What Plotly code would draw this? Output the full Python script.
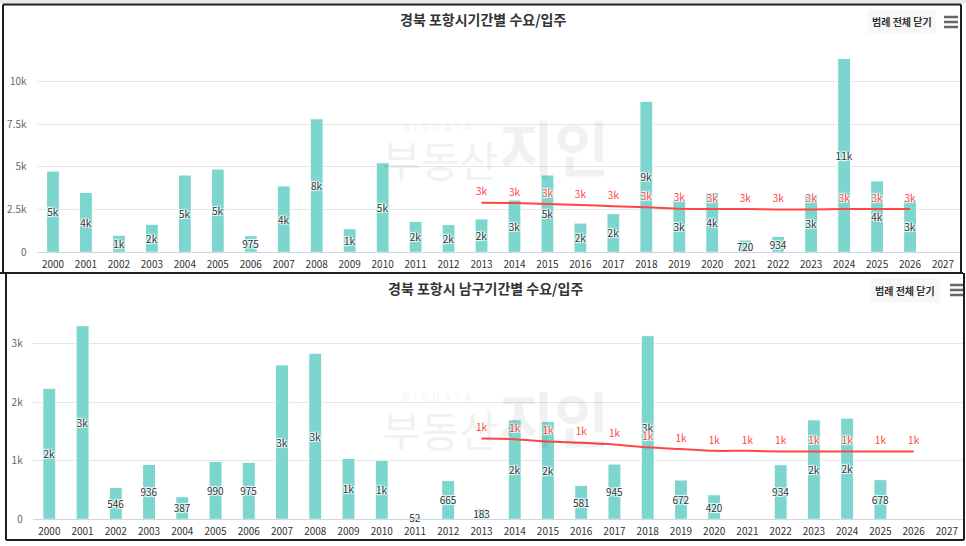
import plotly.graph_objects as go

years = ["2000", "2001", "2002", "2003", "2004", "2005", "2006", "2007", "2008", "2009",
         "2010", "2011", "2012", "2013", "2014", "2015", "2016", "2017", "2018", "2019",
         "2020", "2021", "2022", "2023", "2024", "2025", "2026", "2027"]

# 경북 포항시 (top)
top_supply = [4750, 3500, 1000, 1640, 4520, 4870, 975, 3880, 7810, 1380,
              5240, 1810, 1620, 1950, 3060, 4520, 1710, 2260, 8830, 3050,
              3500, 720, 934, 3390, 11340, 4170, 3060, None]
top_demand = [None, None, None, None, None, None, None, None, None, None,
              None, None, None, 2900, 2880, 2820, 2770, 2700, 2630, 2550,
              2530, 2530, 2510, 2510, 2530, 2530, 2530, None]
top_yticks = [0, 2500, 5000, 7500, 10000]
top_yticklabels = ["0", "2.5k", "5k", "7.5k", "10k"]

# 경북 포항시 남구 (bottom)
bot_supply = [2240, 3310, 546, 936, 387, 990, 975, 2640, 2840, 1040,
              1010, 52, 665, 183, 1700, 1670, 581, 945, 3140, 672,
              420, None, 934, 1700, 1730, 678, None, None]
bot_demand = [None, None, None, None, None, None, None, None, None, None,
              None, None, None, 1380, 1370, 1330, 1310, 1280, 1230, 1200,
              1170, 1170, 1160, 1160, 1160, 1160, 1160, None]
bot_yticks = [0, 1000, 2000, 3000]
bot_yticklabels = ["0", "1k", "2k", "3k"]

top_title = "경북 포항시기간별 수요/입주"
bot_title = "경북 포항시 남구기간별 수요/입주"
legend_btn = "범례 전체 닫기"

W, H = 966, 546
FIG_H = 553
BAR = "#7dd6ce"
RED = "#ff4545"
FONT = "Noto Sans CJK KR, Noto Sans, sans-serif"
HALO = "1px 1px 1px #fff, -1px -1px 1px #fff, 1px -1px 1px #fff, -1px 1px 1px #fff"


def fmt(v):
    if v is None:
        return ""
    if v >= 1000:
        return f"{int(v / 1000 + 0.5)}k"
    return str(int(v))


def px(x):
    return x / W


def py(y):
    return 1 - y / H


fig = go.Figure()

for supply, demand, xa, ya in [(top_supply, top_demand, "x", "y"),
                               (bot_supply, bot_demand, "x2", "y2")]:
    fig.add_trace(go.Bar(
        x=years, y=supply, xaxis=xa, yaxis=ya, width=0.39,
        marker=dict(color=BAR, line=dict(color="#ffffff", width=1)),
        text=[fmt(v) for v in supply], textposition="inside",
        insidetextanchor="middle", constraintext="none", textangle=0,
        textfont=dict(color="#333333", size=10, family=FONT, shadow=HALO),
        hoverinfo="x+y", showlegend=False, cliponaxis=False,
    ))
    fig.add_trace(go.Scatter(
        x=years, y=demand, xaxis=xa, yaxis=ya, mode="lines+markers+text",
        line=dict(color=RED, width=2, shape="spline", smoothing=0.6),
        marker=dict(size=6, color="rgba(0,0,0,0)"),
        text=[fmt(v) for v in demand], textposition="top center",
        textfont=dict(color=RED, size=10, family=FONT, shadow=HALO),
        connectgaps=False, showlegend=False, cliponaxis=False,
    ))

axis_common = dict(type="category", categoryorder="array", categoryarray=years,
                   range=[-0.5, 27.5], showgrid=False, showline=True,
                   linecolor="#ccd6eb", linewidth=1, ticks="", zeroline=False,
                   tickfont=dict(size=10, color="#333333", family=FONT),
                   ticklabelstandoff=3, fixedrange=True)
yaxis_common = dict(showgrid=True, gridcolor="#e6e6e6", gridwidth=1, zeroline=False,
                    showline=False, ticks="", tickfont=dict(size=10, color="#666666", family=FONT),
                    ticklabelstandoff=9, fixedrange=True)

fig.update_layout(
    width=W, height=FIG_H, margin=dict(l=0, r=0, t=0, b=0),
    paper_bgcolor="#ffffff", plot_bgcolor="rgba(0,0,0,0)",
    bargap=0.6, showlegend=False,
    font=dict(family=FONT, color="#333333"),
    xaxis=dict(axis_common, domain=[px(36.5), px(959.5)], anchor="y"),
    yaxis=dict(yaxis_common, domain=[py(252.3), py(47.1)], range=[0, 12000],
               tickvals=top_yticks, ticktext=top_yticklabels, anchor="x"),
    xaxis2=dict(axis_common, domain=[px(32.7), px(963.5)], anchor="y2"),
    yaxis2=dict(yaxis_common, domain=[py(519.3), py(308.7)], range=[0, 3600],
                tickvals=bot_yticks, ticktext=bot_yticklabels, anchor="x2"),
)

annotations = []
# watermarks (faint)
for dy in (0, 270):
    annotations += [
        dict(text="B  I  G  D  A  T  A", x=px(437), y=py(126 + dy), showarrow=False,
             font=dict(size=10, color="#000000", family=FONT), opacity=0.05),
        dict(text="부동산", x=px(440), y=py(158 + dy), showarrow=False,
             font=dict(size=42, color="#000000", family=FONT), opacity=0.05),
        dict(text="<b>지인</b>", x=px(554), y=py(146 + dy), showarrow=False,
             font=dict(size=60, color="#000000", family=FONT), opacity=0.05),
    ]
# titles
annotations += [
    dict(text=f"<b>{top_title}</b>", x=px(483), y=py(19), showarrow=False,
         font=dict(size=14, color="#333333", family=FONT)),
    dict(text=f"<b>{bot_title}</b>", x=px(486), y=py(288), showarrow=False,
         font=dict(size=14, color="#333333", family=FONT)),
    dict(text=f"<b>{legend_btn}</b>", x=px(902), y=py(22), showarrow=False,
         font=dict(size=10, color="#333333", family=FONT), bgcolor="#f7f7f7", borderpad=4),
    dict(text=f"<b>{legend_btn}</b>", x=px(905), y=py(290), showarrow=False,
         font=dict(size=10, color="#333333", family=FONT), bgcolor="#f7f7f7", borderpad=4),
]
for a in annotations:
    a.setdefault("xref", "paper")
    a.setdefault("yref", "paper")
    a.setdefault("xanchor", "center")
    a.setdefault("yanchor", "middle")
fig.update_layout(annotations=annotations)

shapes = []
def pline(x0, y0, x1, y1, color="#1e1e1e", width=2):
    shapes.append(dict(type="line", xref="paper", yref="paper",
                       x0=px(x0), y0=py(y0), x1=px(x1), y1=py(y1),
                       line=dict(color=color, width=width)))

# top grey strip
shapes.append(dict(type="rect", xref="paper", yref="paper", x0=0, x1=1, y0=py(3.5), y1=1,
                   fillcolor="#e9e9e9", line=dict(width=0), layer="below"))
# top panel frame
pline(3, 4.5, 961, 4.5)
pline(3, 4.5, 3, 273)
pline(961, 4.5, 961, 273)
pline(0, 273, 963, 273)
# bottom panel frame
pline(6, 273, 6, 540)
pline(6, 540, 964, 540)
pline(964, 273, 964, 540)
# hamburger icons
for yy in (17, 22, 27):
    pline(944, yy, 958, yy, color="#666666", width=2.5)
for yy in (285, 290, 295):
    pline(950, yy, 963, yy, color="#666666", width=2.5)

fig.update_layout(shapes=shapes)

fig.write_html(
    "out.html",
    config={"displayModeBar": False, "staticPlot": True},
    post_script=(
        "var s=document.createElement('style');"
        "s.textContent='html,body{margin:0!important;padding:0!important;overflow:hidden;}';"
        "document.head.appendChild(s);"
    ),
)
